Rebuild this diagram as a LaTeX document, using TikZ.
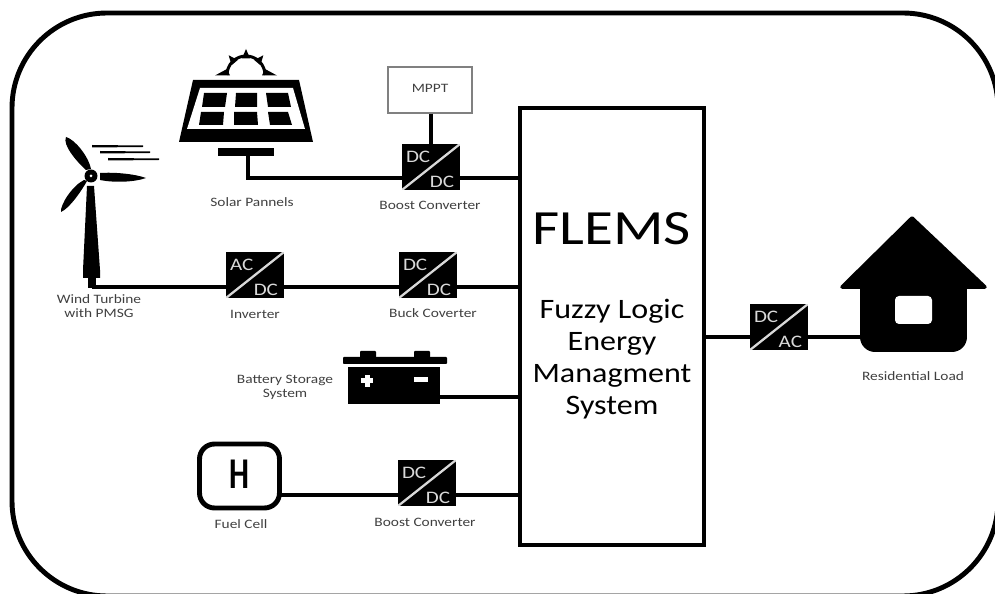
\documentclass[tikz,border=0pt]{standalone}
\usepackage{fontspec}
\setmainfont{Carlito}
\usetikzlibrary{positioning}
\usetikzlibrary{calc}
\newcommand{\widetext}[2]{\scalebox{#1}[1]{\begin{tabular}{@{}c@{}}#2\end{tabular}}}
\begin{document}
\begin{tikzpicture}[
    x=0.02cm, y=-0.02cm,
    wire/.style={draw=black, line width=1.8pt},
    conv/.style={rectangle, fill=black, inner sep=0pt, minimum width=1.16cm, minimum height=0.92cm,
        path picture={\draw[white!85!black, line width=1.3pt] (path picture bounding box.south west) -- (path picture bounding box.north east);}},
    convtext/.style={inner sep=0pt, text=white!85!black, font=\fontsize{10}{10}\selectfont},
    caption/.style={inner sep=0pt, text=black!75, font=\fontsize{7.3}{8.4}\selectfont},
    bigtext/.style={inner sep=0pt, font=\fontsize{16}{18.2}\selectfont},
    blade/.style={fill=black, line join=round}
]
    \useasboundingbox (0,0) rectangle (995,594);

    % Frame
    \draw[line width=2.8pt] (12,13) [rounded corners=1.9cm] rectangle (998,596);

    % Central box
    \node[draw, line width=1.8pt, inner sep=0pt, minimum width=3.68cm, minimum height=8.74cm] (flems) at (612,326.5) {};
    \node[inner sep=0pt, font=\fontsize{28}{28}\selectfont] (flemstitle) at (612,235) {\widetext{1.2}{FLEMS}};
    \node[bigtext] (flemsname) at (612,360) {\widetext{1.14}{Fuzzy Logic\\Energy\\Managment\\System}};

    % Converters
    \foreach \name/\px/\py/\txta/\txtb in {boost1/431/167/DC/DC, inverter/255/275/AC/DC, buck/428/275/DC/DC, boost2/427/483/DC/DC, dcac/779/327/DC/AC} {
        \node[conv] (\name) at (\px,\py) {};
        \node[convtext, anchor=north west] (\name top) at ($(\name.north west)+(4,6)$) {\widetext{1.2}{\txta}};
        \node[convtext, anchor=south east] (\name bot) at ($(\name.south east)+(-6,3)$) {\widetext{1.2}{\txtb}};
    }

    % MPPT
    \node[draw=black!50, line width=0.7pt, inner sep=0pt, minimum width=1.68cm, minimum height=0.92cm, font=\fontsize{7.3}{8}\selectfont, text=black!75] (mppt) at (430,90) {\widetext{1.2}{MPPT}};
    \draw[wire] (mppt.south -| boost1) -- (boost1.north);

    % Solar panel
    \fill[line join=round] (193,80) -- (299,80) -- (313,142) -- (179,142) -- cycle;
    \fill[white] (200,88) -- (293,88) -- (305,129) -- (187,129) -- cycle;
    \fill (204,93) -- (227,93) -- (225,107) -- (202,107) -- cycle;
    \fill (236,93) -- (257,93) -- (257,107) -- (235,107) -- cycle;
    \fill (266,93) -- (288,93) -- (291,107) -- (268,107) -- cycle;
    \fill (201,112) -- (224,112) -- (223,125) -- (199,125) -- cycle;
    \fill (234,112) -- (257,112) -- (258,125) -- (234,125) -- cycle;
    \fill (268,112) -- (288,112) -- (292,125) -- (270,125) -- cycle;
    \node[fill=black, inner sep=0pt, minimum width=1.12cm, minimum height=0.16cm] (stand) at (246,152) {};
    \foreach \a in {-90,-50,-130} {
        \fill[shift={(246,76)}] (\a-13:18) -- (\a:27) -- (\a+13:18) -- cycle;
    }
    \fill (215,75.5) -- (227,69) -- (230,75.5) -- cycle;
    \fill (277,75.5) -- (265,69) -- (262,75.5) -- cycle;
    \draw[line width=1.7pt] (227,75) arc[start angle=180, end angle=360, radius=19];

    % Wind turbine
    \fill (87,186) -- (94,186) -- (100,270) -- (100,278) -- (83,278) -- (83,270) -- cycle;
    \node[fill=black, inner sep=0pt, minimum width=0.16cm, minimum height=0.2cm] (towerbase) at (92,283) {};
    \fill[blade] (86,170) .. controls (78,163) and (62,145) .. (66,137) .. controls (74,139) and (88,155) .. (91,169) -- cycle;
    \fill[blade] (100,173) .. controls (115,172) and (135,174) .. (146,178) .. controls (135,182) and (115,183) .. (100,180) -- cycle;
    \fill[blade] (87,181) .. controls (82,190) and (70,208) .. (61,212) .. controls (60,205) and (72,186) .. (84,180) -- cycle;
    \fill (91,176) circle[radius=6.5];
    \fill[white] (91,176) circle[radius=1.5];
    \fill (92,145) -- (143,145.5) -- (143,147) -- (92,147.5) -- cycle;
    \fill (100,151) -- (150,151.5) -- (150,153) -- (100,153.5) -- cycle;
    \fill (108,158) -- (159,158.5) -- (159,160) -- (108,160.5) -- cycle;

    % Battery
    \node[fill=black, inner sep=0pt, minimum width=1.84cm, minimum height=0.76cm] (battery) at (394,385.5) {};
    \fill[rounded corners=0.5pt] (343,357) rectangle (447,364);
    \fill[rounded corners=0.5pt] (360,351) rectangle (376,358);
    \fill[rounded corners=0.5pt] (414,351) rectangle (430,358);
    \fill[white] (364.5,375) rectangle (369.5,387);
    \fill[white] (361,378.5) rectangle (373,383.5);
    \fill[white] (414,377.5) rectangle (428,382.5);

    % Fuel cell
    \node[draw, line width=2.8pt, rounded corners=0.3cm, inner sep=0pt, minimum width=1.6cm, minimum height=1.28cm] (fuelcell) at (239.5,476) {};
    \node[inner sep=0pt, font=\bfseries\fontsize{25}{25}\selectfont] (hydrogen) at (239.5,480) {\widetext{0.72}{H}};

    % House
    \node[fill=black, rounded corners=0.3cm, inner sep=0pt, minimum width=2.14cm, minimum height=1.54cm] (house) at (913.5,313.5) {};
    \fill[line join=round, draw, line width=2pt] (912,218) -- (985,287) -- (842,287) -- cycle;
    \node[fill=white, rounded corners=0.08cm, inner sep=0pt, minimum width=0.74cm, minimum height=0.56cm] (window) at (913.5,310) {};

    % Wires
    \coordinate (solarend) at (248,178);
    \coordinate (windend) at (92,287);
    \coordinate (batteryend) at (440,397);
    \coordinate (cellend) at (281,495);
    \coordinate (loadend) at (704,337);
    \draw[wire] (stand.south -| solarend) -- (solarend) -- (solarend -| boost1.west);
    \draw[wire] (boost1.east |- solarend) -- (solarend -| flems.west);
    \draw[wire] (windend) -- (windend -| inverter.west);
    \draw[wire] (inverter.east |- windend) -- (windend -| buck.west);
    \draw[wire] (buck.east |- windend) -- (windend -| flems.west);
    \draw[wire] (batteryend) -- (batteryend -| flems.west);
    \draw[wire] (cellend) -- (cellend -| boost2.west);
    \draw[wire] (boost2.east |- cellend) -- (cellend -| flems.west);
    \draw[wire] (loadend) -- (loadend -| dcac.west);
    \draw[wire] (dcac.east |- loadend) -- (loadend -| house.west);

    % Labels
    \node[caption] (windlabel) at (99,307.5) {\widetext{1.2}{Wind Turbine\\with PMSG}};
    \node[caption] (solarlabel) at (252,204) {\widetext{1.2}{Solar Pannels}};
    \node[caption] (inverterlabel) at (255,316) {\widetext{1.2}{Inverter}};
    \node[caption] (boost1label) at (430,207) {\widetext{1.2}{Boost Converter}};
    \node[caption] (bucklabel) at (433,315) {\widetext{1.2}{Buck Coverter}};
    \node[caption] (batterylabel) at (285,387.5) {\widetext{1.2}{Battery Storage\\System}};
    \node[caption] (celllabel) at (241,526) {\widetext{1.2}{Fuel Cell}};
    \node[caption] (boost2label) at (425,524) {\widetext{1.2}{Boost Converter}};
    \node[caption] (houselabel) at (913,378) {\widetext{1.2}{Residential Load}};
\end{tikzpicture}
\end{document}
